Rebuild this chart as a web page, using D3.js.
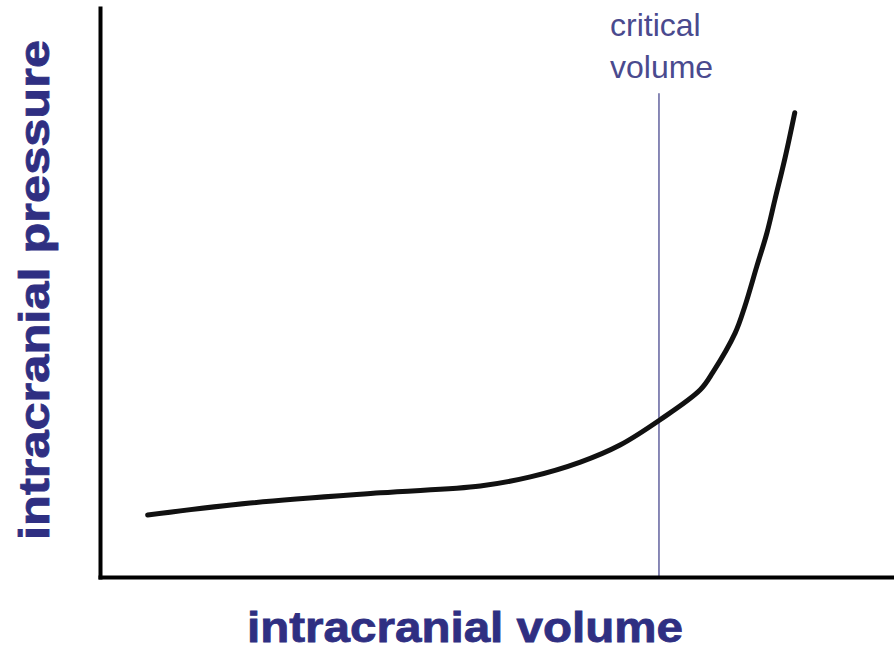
<!DOCTYPE html>
<html>
<head>
<meta charset="utf-8">
<script src="https://cdn.jsdelivr.net/npm/d3@7"></script>
<style>
  body { margin: 0; background: #fff; }
  svg { display: block; }
</style>
</head>
<body>
<div></div>
<script>
// curve (arbitrary units, 0-100 on each axis)
var volume   = [6.0, 18.9, 35.3, 47.9, 54.2, 60.5, 65.5, 70.5, 75.6, 77.2, 80.0, 81.2, 82.7, 84.0, 85.0, 86.3, 87.5];
var pressure = [10.9, 13.0, 14.8, 16.0, 17.6, 20.2, 23.2, 27.6, 32.9, 36.0, 42.9, 47.5, 54.5, 60.5, 66.3, 73.8, 81.6];
var criticalVolume = 70.4;
var criticalLabel = ["critical", "volume"];
var xTitle = "intracranial volume";
var yTitle = "intracranial pressure";

var width = 894, height = 650;
var margin = { top: 8, right: 0, bottom: 73, left: 100 };

var svg = d3.select("div").append("svg").attr("width", width).attr("height", height);

var x = d3.scaleLinear().domain([0, 100]).range([margin.left, width - margin.right]);
var y = d3.scaleLinear().domain([0, 100]).range([height - margin.bottom, margin.top]);

var points = volume.map(function(v, i) { return { v: v, p: pressure[i] }; });

// critical volume marker
svg.append("line")
  .attr("x1", x(criticalVolume)).attr("x2", x(criticalVolume))
  .attr("y1", y(85)).attr("y2", y(0))
  .attr("stroke", "#3a3a86")
  .attr("stroke-width", 1.2);

svg.append("g")
  .selectAll("text")
  .data(criticalLabel)
  .enter()
  .append("text")
  .attr("x", 610)
  .attr("y", function(d, i) { return 36 + i * 42; })
  .attr("font-family", "Liberation Sans, Arial, sans-serif")
  .attr("font-size", 32)
  .attr("fill", "#4a4a8e")
  .text(function(d) { return d; });

// pressure-volume curve
var line = d3.line()
  .x(function(d) { return x(d.v); })
  .y(function(d) { return y(d.p); })
  .curve(d3.curveCatmullRom.alpha(0.5));

svg.append("path")
  .datum(points)
  .attr("d", line)
  .attr("fill", "none")
  .attr("stroke", "#111")
  .attr("stroke-width", 5)
  .attr("stroke-linecap", "round");

// axes, no ticks
svg.append("g")
  .attr("transform", "translate(0," + (height - margin.bottom) + ")")
  .call(d3.axisBottom(x).ticks(0).tickSizeOuter(0));
svg.append("g")
  .attr("transform", "translate(" + margin.left + ",0)")
  .call(d3.axisLeft(y).ticks(0).tickSizeOuter(0));
svg.selectAll(".domain")
  .attr("stroke", "#000")
  .attr("stroke-width", 4)
  .attr("stroke-linecap", "square");

// titles
svg.append("text")
  .attr("x", 247)
  .attr("y", 642)
  .attr("font-family", "Liberation Sans, Arial, sans-serif")
  .attr("font-weight", "bold")
  .attr("font-size", 42)
  .attr("textLength", 436)
  .attr("lengthAdjust", "spacingAndGlyphs")
  .attr("fill", "#2f2f82")
  .attr("stroke", "#2f2f82")
  .attr("stroke-width", 0.8)
  .text(xTitle);

svg.append("text")
  .attr("transform", "translate(49,540) rotate(-90)")
  .attr("font-family", "Liberation Sans, Arial, sans-serif")
  .attr("font-weight", "bold")
  .attr("font-size", 42)
  .attr("textLength", 500)
  .attr("lengthAdjust", "spacingAndGlyphs")
  .attr("fill", "#2f2f82")
  .attr("stroke", "#2f2f82")
  .attr("stroke-width", 0.8)
  .text(yTitle);
</script>
</body>
</html>
